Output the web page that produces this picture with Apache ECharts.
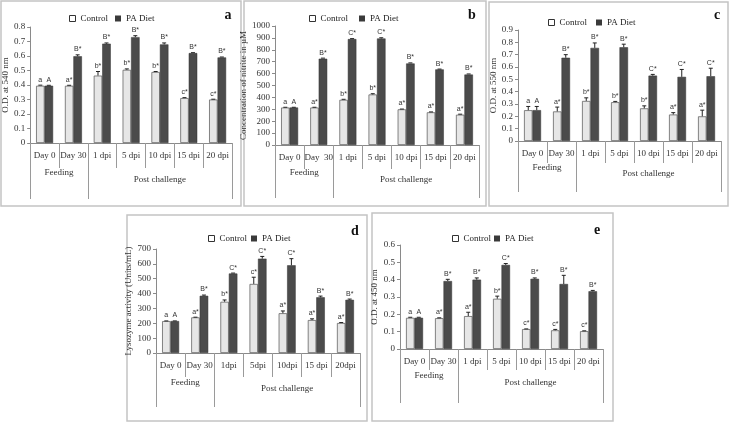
<!DOCTYPE html>
<html><head><meta charset="utf-8">
<script src="https://cdn.jsdelivr.net/npm/echarts@6/dist/echarts.min.js"></script>
<style>html,body{margin:0;padding:0;background:#fff}#c{width:729px;height:422px}</style>
</head><body><div id="c"></div>
<script>
// ---------- DATA ----------
const categoriesA = ["Day 0","Day 30","1 dpi","5 dpi","10 dpi","15 dpi","20 dpi"];
const categoriesB = ["Day 0","Day  30","1 dpi","5 dpi","10 dpi","15 dpi","20 dpi"];
const categoriesC = ["Day 0","Day 30","1 dpi","5 dpi","10 dpi","15 dpi","20 dpi"];
const categoriesD = ["Day 0","Day 30","1dpi","5dpi","10dpi","15 dpi","20dpi"];
const categoriesE = ["Day 0","Day 30","1 dpi","5 dpi","10 dpi","15 dpi","20 dpi"];
const groupNames = ["Feeding","Post challenge"];
const groupSizes = [2,5];
const seriesNames = ["Control","PA Diet"];
const panelLetters = ["a","b","c","d","e"];
const yNames = ["O.D. at 540 nm","Concentration of nitrite in µM","O.D. at 550 nm","Lysozyme activity (Units/mL)","O.D. at 450 nm"];
const yMax = [0.8, 1000, 0.9, 700, 0.6];
const yStep = [0.1, 100, 0.1, 100, 0.1];

// panel a
const aControl    = [0.395,0.395,0.465,0.505,0.490,0.310,0.300];
const aControlErr = [0.004,0.003,0.028,0.006,0.003,0.003,0.002];
const aPA         = [0.395,0.598,0.685,0.730,0.680,0.620,0.590];
const aPAErr      = [0.003,0.010,0.005,0.010,0.010,0.003,0.003];
const aControlSig = ["a","a*","b*","b*","b*","c*","c*"];
const aPASig      = ["A","B*","B*","B*","B*","B*","B*"];
// panel b
const bControl    = [315,315,380,425,300,275,255];
const bControlErr = [2,2,4,6,2,3,4];
const bPA         = [315,725,890,895,685,635,592];
const bPAErr      = [2,5,4,6,5,3,5];
const bControlSig = ["a","a*","b*","b*","a*","a*","a*"];
const bPASig      = ["A","B*","C*","C*","B*","B*","B*"];
// panel c
const cControl    = [0.250,0.240,0.325,0.315,0.265,0.215,0.200];
const cControlErr = [0.030,0.035,0.025,0.006,0.020,0.015,0.050];
const cPA         = [0.250,0.675,0.755,0.760,0.530,0.520,0.525];
const cPAErr      = [0.030,0.025,0.040,0.025,0.010,0.060,0.065];
const cControlSig = ["a","a*","b*","b*","b*","a*","a*"];
const cPASig      = ["A","B*","B*","B*","C*","C*","C*"];
// panel d
const dControl    = [215,240,345,465,268,222,202];
const dControlErr = [1,1,12,45,15,8,3];
const dPA         = [215,385,535,635,590,375,358];
const dPAErr      = [1,5,3,15,45,8,5];
const dControlSig = ["a","a*","b*","c*","a*","a*","a*"];
const dPASig      = ["A","B*","C*","C*","C*","B*","B*"];
// panel e
const eControl    = [0.180,0.178,0.190,0.290,0.115,0.108,0.103];
const eControlErr = [0.003,0.002,0.022,0.015,0.001,0.005,0.002];
const ePA         = [0.180,0.392,0.400,0.485,0.405,0.375,0.333];
const ePAErr      = [0.003,0.010,0.010,0.008,0.005,0.050,0.005];
const eControlSig = ["a","a*","a*","b*","c*","c*","c*"];
const ePASig      = ["A","B*","B*","C*","B*","B*","B*"];

// ---------- LAYOUT / STYLE ----------
const panels = [
  {cats:categoriesA, ctrl:aControl, ctrlErr:aControlErr, pa:aPA, paErr:aPAErr, cs:aControlSig, ps:aPASig,
   box:[1,1,240,205], grid:{left:29,top:27,width:203,height:116}, tick:25, longEnd:199, feedY:173, postY:180,
   legC:[64,9], legP:[110,9], letter:[228,15], nameGap:19},
  {cats:categoriesB, ctrl:bControl, ctrlErr:bControlErr, pa:bPA, paErr:bPAErr, cs:bControlSig, ps:bPASig,
   box:[244,1,242,205], grid:{left:275,top:26,width:204,height:119}, tick:24, longEnd:198, feedY:173, postY:180,
   legC:[304,9], legP:[354,9], letter:[472,15], nameGap:23},
  {cats:categoriesC, ctrl:cControl, ctrlErr:cControlErr, pa:cPA, paErr:cPAErr, cs:cControlSig, ps:cPASig,
   box:[489,2,239,204], grid:{left:518,top:30,width:203,height:111}, tick:22, longEnd:192, feedY:168, postY:174,
   legC:[543,13], legP:[591,13], letter:[717,15], nameGap:20},
  {cats:categoriesD, ctrl:dControl, ctrlErr:dControlErr, pa:dPA, paErr:dPAErr, cs:dControlSig, ps:dPASig,
   box:[127,215,240,206], grid:{left:156,top:249,width:204,height:104}, tick:24, longEnd:407, feedY:383, postY:389,
   legC:[203,229], legP:[246,229], letter:[355,231], nameGap:20},
  {cats:categoriesE, ctrl:eControl, ctrlErr:eControlErr, pa:ePA, paErr:ePAErr, cs:eControlSig, ps:ePASig,
   box:[372,213,241,208], grid:{left:400,top:245,width:203,height:104}, tick:21, longEnd:403, feedY:376, postY:383,
   legC:[447,229], legP:[489,229], letter:[597,230], nameGap:21}
];
const BAR_W = 8.5;
const SERIF = '"Liberation Serif", "DejaVu Serif", serif';
const CTRL_COLOR = '#e6e6e6';
const PA_COLOR = '#4b4b4b';

function errSeries(idx, values, errs, sigs, side) {
  return {
    type:'custom', xAxisIndex:idx, yAxisIndex:idx, z:5, silent:true, clip:false,
    data: values.map((v,k)=>[k, v, errs[k]]),
    renderItem: function(params, api) {
      const k = api.value(0), v = api.value(1), e = api.value(2);
      const base = api.coord([k, v]);
      const top = api.coord([k, v + e]);
      const x = base[0] + side * BAR_W / 2;
      const ch = [];
      if (top[1] < base[1] - 0.6) {
        ch.push({type:'line', shape:{x1:x,y1:base[1],x2:x,y2:top[1]}, style:{stroke:'#222', lineWidth:1}});
      }
      ch.push({type:'line', shape:{x1:x-2,y1:top[1],x2:x+2,y2:top[1]}, style:{stroke:'#222', lineWidth:1}});
      ch.push({type:'text', x:x, y:top[1]-2, style:{text:sigs[params.dataIndex], textAlign:'center', textVerticalAlign:'bottom', align:'center', verticalAlign:'bottom', fontSize:7, fontFamily:'Liberation Sans', fill:'#333'}});
      return {type:'group', children:ch};
    }
  };
}

const option = {
  animation:false,
  backgroundColor:'#fff',
  textStyle:{fontFamily:SERIF},
  grid:[], xAxis:[], yAxis:[], series:[], legend:[], graphic:[]
};
panels.forEach((p,i)=>{
  option.grid.push(Object.assign({containLabel:false}, p.grid));
  option.xAxis.push({
    type:'category', gridIndex:i, data:p.cats, boundaryGap:true,
    axisLine:{lineStyle:{color:'#8a8a8a', width:1}},
    axisTick:{show:true, alignWithLabel:false, length:p.tick, lineStyle:{color:'#9a9a9a'}},
    axisLabel:{interval:0, margin:8, fontFamily:SERIF, fontSize:9, color:'#333'}
  });
  option.yAxis.push({
    type:'value', gridIndex:i, min:0, max:yMax[i], interval:yStep[i],
    name:yNames[i], nameLocation:'middle', nameRotate:90, nameGap:p.nameGap,
    nameTextStyle:{fontFamily:SERIF, fontSize:9, color:'#333'},
    axisLine:{show:true, lineStyle:{color:'#8a8a8a'}},
    axisTick:{show:true, length:3, lineStyle:{color:'#8a8a8a'}},
    splitLine:{show:false},
    axisLabel:{margin:5, fontFamily:SERIF, fontSize:9, color:'#333',
      formatter: v => (yStep[i] < 1 ? (Math.round(v*10)/10).toString() : String(Math.round(v)))}
  });
  option.series.push({
    type:'bar', name:seriesNames[0], xAxisIndex:i, yAxisIndex:i, data:p.ctrl,
    barWidth:BAR_W, barGap:'0%',
    itemStyle:{color:CTRL_COLOR, borderColor:'#666', borderWidth:0.8}
  });
  option.series.push({
    type:'bar', name:seriesNames[1], xAxisIndex:i, yAxisIndex:i, data:p.pa,
    barWidth:BAR_W, barGap:'0%',
    itemStyle:{color:PA_COLOR, borderColor:'#333', borderWidth:0.5}
  });
  option.series.push(errSeries(i, p.ctrl, p.ctrlErr, p.cs, -1));
  option.series.push(errSeries(i, p.pa, p.paErr, p.ps, 1));
  option.legend.push({
    left:p.legC[0], top:p.legC[1], itemWidth:6, itemHeight:6, icon:'rect', selectedMode:false,
    data:[{name:seriesNames[0], itemStyle:{color:'#fff', borderColor:'#333', borderWidth:1}}],
    textStyle:{fontFamily:SERIF, fontSize:9, color:'#222'}
  });
  option.legend.push({
    left:p.legP[0], top:p.legP[1], itemWidth:6, itemHeight:6, icon:'rect', selectedMode:false,
    data:[{name:seriesNames[1], itemStyle:{color:'#3a3a3a', borderColor:'#3a3a3a', borderWidth:0}}],
    textStyle:{fontFamily:SERIF, fontSize:9, color:'#222'}
  });
  option.graphic.push({type:'rect', shape:{x:p.box[0], y:p.box[1], width:p.box[2], height:p.box[3]}, style:{fill:'none', stroke:'#c4c4c4', lineWidth:1.5}, silent:true, z:0});
  option.graphic.push({type:'text', x:p.letter[0], y:p.letter[1], style:{text:panelLetters[i], fontFamily:SERIF, fontSize:14, fontWeight:'bold', fill:'#111', textAlign:'center', textVerticalAlign:'middle', align:'center', verticalAlign:'middle'}, silent:true});
});

const chart = echarts.init(document.getElementById('c'), null, {renderer:'canvas'});
chart.setOption(option);

// group dividers and group labels, placed from the axis scale
const extra = option.graphic.slice();
panels.forEach((p,i)=>{
  const c0 = chart.convertToPixel({xAxisIndex:i}, 0);
  const c1 = chart.convertToPixel({xAxisIndex:i}, 1);
  const band = c1 - c0;
  const y0 = chart.convertToPixel({yAxisIndex:i}, 0);
  const bound = k => c0 - band/2 + k*band;
  let start = 0;
  const cuts = [0];
  groupSizes.forEach(s=>{ start += s; cuts.push(start); });
  cuts.forEach(k=>{
    const x = Math.round(bound(k)) + 0.5;
    extra.push({type:'line', shape:{x1:x, y1:y0, x2:x, y2:p.longEnd}, style:{stroke:'#9a9a9a', lineWidth:1}, silent:true});
  });
  const ys = [p.feedY, p.postY];
  groupNames.forEach((g,gi)=>{
    const xm = (bound(cuts[gi]) + bound(cuts[gi+1]))/2;
    extra.push({type:'text', x:xm, y:ys[gi], style:{text:g, fontFamily:SERIF, fontSize:9, fill:'#333', textAlign:'center', textVerticalAlign:'middle', align:'center', verticalAlign:'middle'}, silent:true});
  });
});
chart.setOption({graphic:extra}, {replaceMerge:['graphic']});
</script></body></html>
